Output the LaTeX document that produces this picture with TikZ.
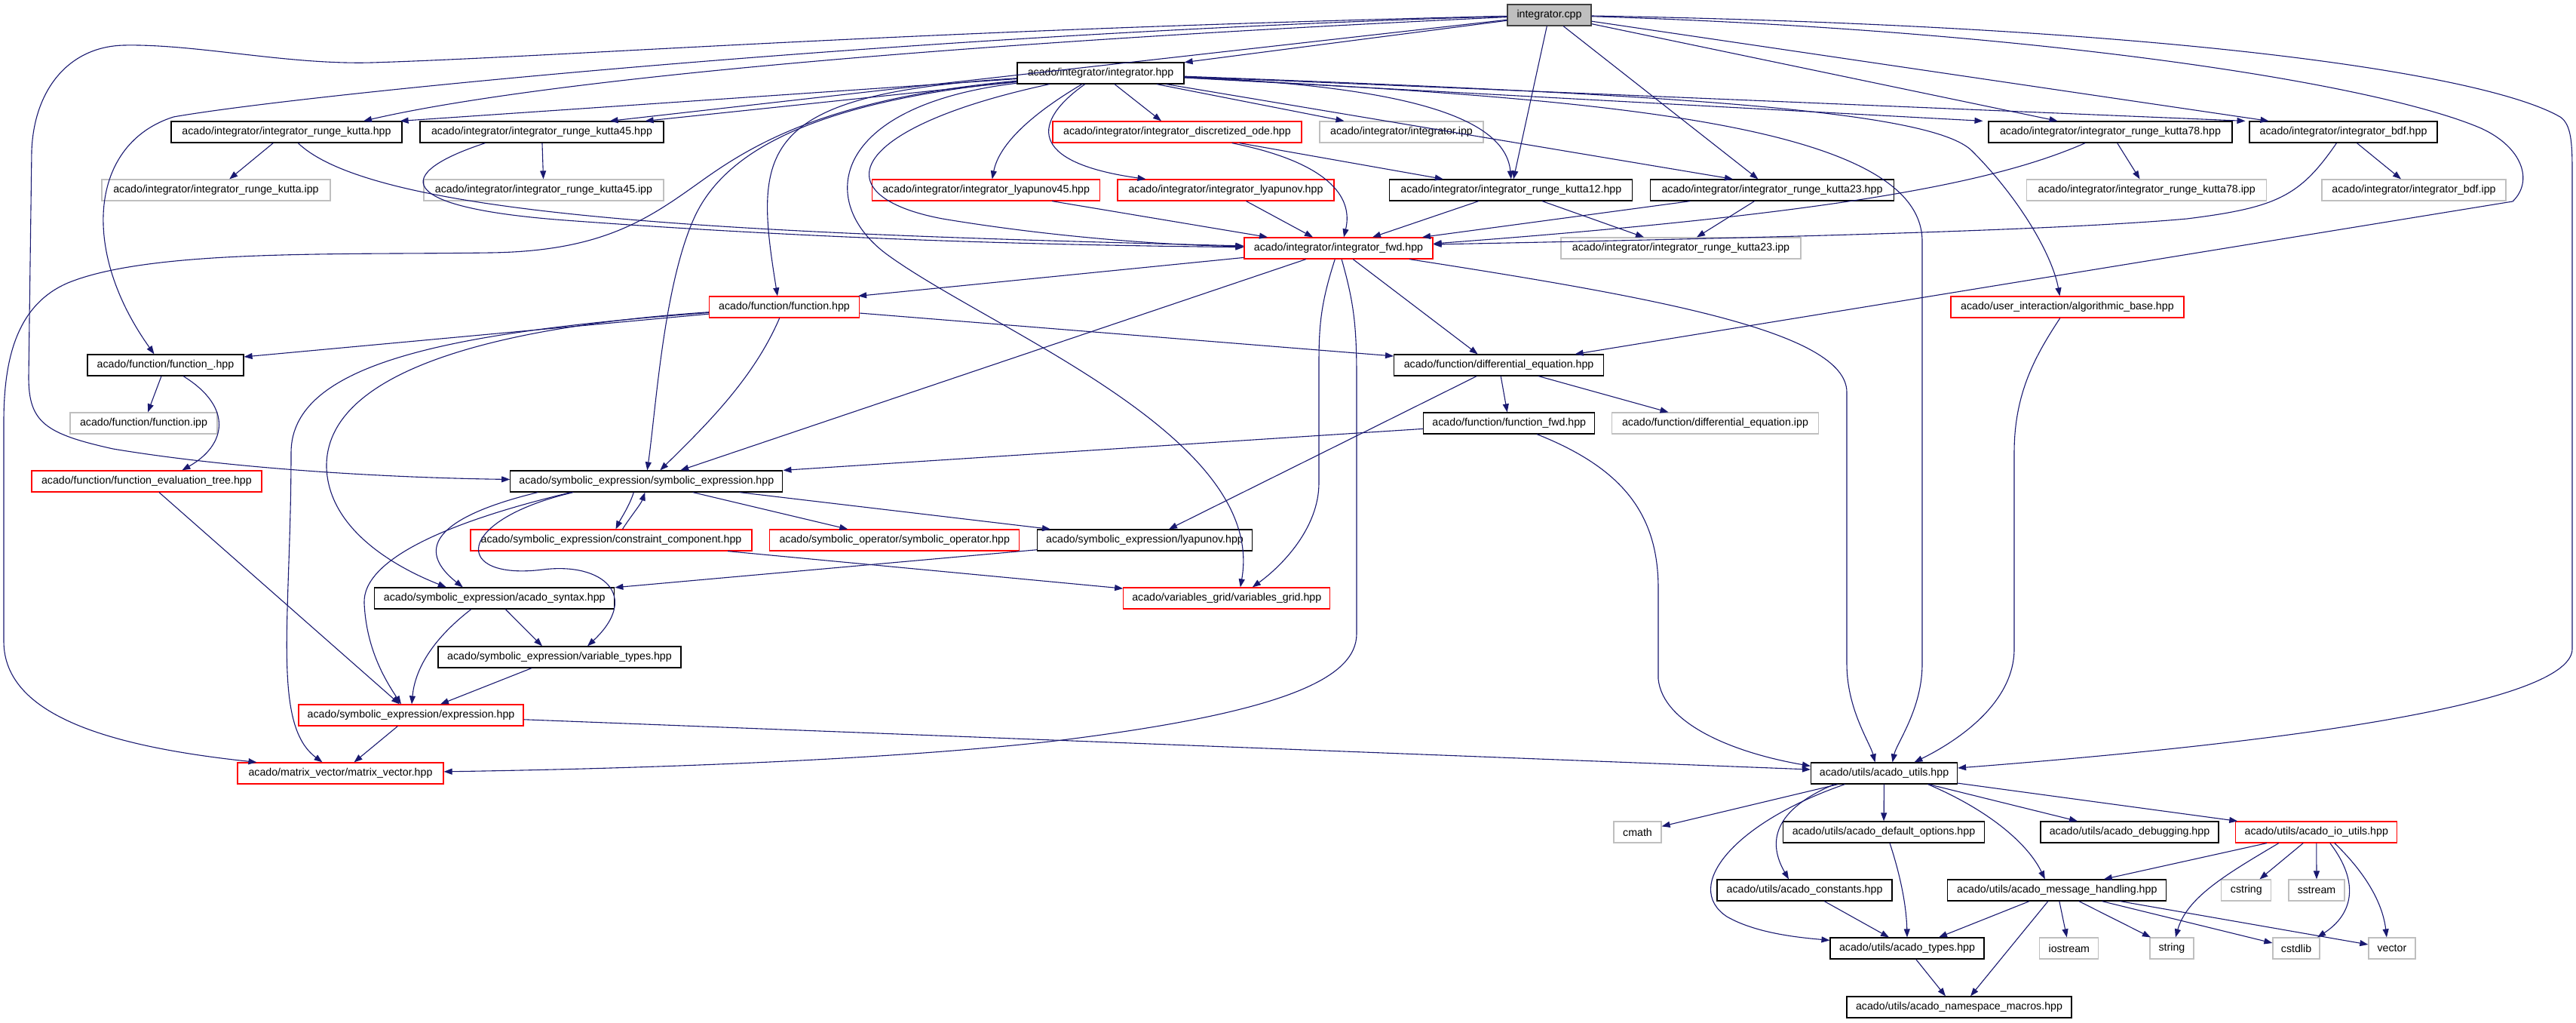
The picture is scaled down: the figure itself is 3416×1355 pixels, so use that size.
\documentclass[tikz,border=0pt]{standalone}
\usepackage{fontspec}
\setmainfont{Liberation Sans}
\usetikzlibrary{arrows.meta}
\definecolor{edgec}{HTML}{191970}
\definecolor{grayb}{HTML}{BFBFBF}
\definecolor{darkb}{HTML}{404040}
\newcommand\dxfont{\fontsize{14.2}{17}\selectfont}
\tikzset{
 nd/.style={draw=black, line width=1.2pt, fill=white, minimum height=28pt, inner sep=0pt, font=\dxfont},
 ndr/.style={nd, draw=red},
 ndg/.style={nd, draw=grayb},
 ed/.style={draw=edgec, line width=1.1pt, -{Triangle[length=11pt,width=8pt]}},
}
\begin{document}
\begin{tikzpicture}[x=1pt,y=-1pt]
\useasboundingbox (0,0) rectangle (3416,1355);
% nodes
\node[nd,fill=grayb,draw=darkb,minimum width=111pt] (cpp) at (2054.5,20) {integrator.cpp};
\node[nd,minimum width=221pt] (ihpp) at (1459.5,97) {acado/integrator/integrator.hpp};
\node[nd,minimum width=306pt] (rk) at (380,175) {acado/integrator/integrator\_runge\_kutta.hpp};
\node[nd,minimum width=323pt] (rk45) at (718.5,175) {acado/integrator/integrator\_runge\_kutta45.hpp};
\node[ndr,minimum width=330pt] (dode) at (1561,175) {acado/integrator/integrator\_discretized\_ode.hpp};
\node[ndg,minimum width=217pt] (iipp) at (1858.5,175) {acado/integrator/integrator.ipp};
\node[nd,minimum width=323pt] (rk78) at (2798.5,175) {acado/integrator/integrator\_runge\_kutta78.hpp};
\node[nd,minimum width=249pt] (bdf) at (3107.5,175) {acado/integrator/integrator\_bdf.hpp};
\node[ndg,minimum width=303pt] (rkipp) at (286.5,252) {acado/integrator/integrator\_runge\_kutta.ipp};
\node[ndg,minimum width=318pt] (rk45ipp) at (721,252) {acado/integrator/integrator\_runge\_kutta45.ipp};
\node[ndr,minimum width=302pt] (ly45) at (1307.7,252) {acado/integrator/integrator\_lyapunov45.hpp};
\node[ndr,minimum width=287pt] (ly) at (1625.5,252) {acado/integrator/integrator\_lyapunov.hpp};
\node[nd,minimum width=322pt] (rk12) at (2003.8,252) {acado/integrator/integrator\_runge\_kutta12.hpp};
\node[nd,minimum width=323pt] (rk23) at (2350,252) {acado/integrator/integrator\_runge\_kutta23.hpp};
\node[ndg,minimum width=318pt] (rk78ipp) at (2846.7,252) {acado/integrator/integrator\_runge\_kutta78.ipp};
\node[ndg,minimum width=244pt] (bdfipp) at (3201,252) {acado/integrator/integrator\_bdf.ipp};
\node[ndr,minimum width=250pt] (fwd) at (1775,329) {acado/integrator/integrator\_fwd.hpp};
\node[ndg,minimum width=318pt] (rk23ipp) at (2229,329) {acado/integrator/integrator\_runge\_kutta23.ipp};
\node[ndr,minimum width=199pt] (func) at (1040,407) {acado/function/function.hpp};
\node[ndr,minimum width=309pt] (algo) at (2741.4,407) {acado/user\_interaction/algorithmic\_base.hpp};
\node[nd,minimum width=207pt] (funcu) at (219.5,484) {acado/function/function\_.hpp};
\node[nd,minimum width=278pt] (diffeq) at (1987.6,484) {acado/function/differential\_equation.hpp};
\node[ndg,minimum width=195pt] (funcipp) at (190.5,561) {acado/function/function.ipp};
\node[nd,minimum width=227pt] (ffwd) at (2001.3,561) {acado/function/function\_fwd.hpp};
\node[ndg,minimum width=274pt] (diffipp) at (2274.5,561) {acado/function/differential\_equation.ipp};
\node[ndr,minimum width=305pt] (fet) at (194.4,638) {acado/function/function\_evaluation\_tree.hpp};
\node[nd,minimum width=361pt] (symexpr) at (857.3,638) {acado/symbolic\_expression/symbolic\_expression.hpp};
\node[ndr,minimum width=373pt] (cc) at (810.5,716) {acado/symbolic\_expression/constraint\_component.hpp};
\node[ndr,minimum width=331pt] (symop) at (1186.3,716) {acado/symbolic\_operator/symbolic\_operator.hpp};
\node[nd,minimum width=285pt] (lyap) at (1518,716) {acado/symbolic\_expression/lyapunov.hpp};
\node[nd,minimum width=318pt] (syntax) at (655.8,793) {acado/symbolic\_expression/acado\_syntax.hpp};
\node[ndr,minimum width=274pt] (vgrid) at (1626.8,793) {acado/variables\_grid/variables\_grid.hpp};
\node[nd,minimum width=322pt] (vtypes) at (742,871) {acado/symbolic\_expression/variable\_types.hpp};
\node[ndr,minimum width=298pt] (expr) at (545,948) {acado/symbolic\_expression/expression.hpp};
\node[ndr,minimum width=273pt] (mv) at (451.5,1025) {acado/matrix\_vector/matrix\_vector.hpp};
\node[nd,minimum width=194pt] (utils) at (2498.5,1025) {acado/utils/acado\_utils.hpp};
\node[ndg,minimum width=63pt] (cmath) at (2171.5,1103) {cmath};
\node[nd,minimum width=267pt] (defopt) at (2498,1103) {acado/utils/acado\_default\_options.hpp};
\node[nd,minimum width=236pt] (debug) at (2824,1103) {acado/utils/acado\_debugging.hpp};
\node[ndr,minimum width=214pt] (io) at (3071.8,1103) {acado/utils/acado\_io\_utils.hpp};
\node[nd,minimum width=232pt] (const) at (2393,1180) {acado/utils/acado\_constants.hpp};
\node[nd,minimum width=290pt] (msg) at (2727.8,1180) {acado/utils/acado\_message\_handling.hpp};
\node[ndg,minimum width=66pt] (cstring) at (2978.8,1180) {cstring};
\node[ndg,minimum width=74pt] (sstream) at (3072,1180) {sstream};
\node[nd,minimum width=204pt] (types) at (2529,1257) {acado/utils/acado\_types.hpp};
\node[ndg,minimum width=78pt] (iostream) at (2743.8,1257) {iostream};
\node[ndg,minimum width=58pt] (string) at (2879.9,1257) {string};
\node[ndg,minimum width=62pt] (cstdlib) at (3045,1257) {cstdlib};
\node[ndg,minimum width=62pt] (vector) at (3171.9,1257) {vector};
\node[nd,minimum width=298pt] (ns) at (2598,1335) {acado/utils/acado\_namespace\_macros.hpp};
% edges from integrator.cpp
\draw[ed] (cpp) -- (ihpp);
\draw[ed] (cpp) .. controls (1200,60) and (700,110) .. ([xshift=102pt]rk.north);
\draw[ed] (cpp) -- ([xshift=90pt]rk45.north);
\draw[ed] (cpp) .. controls (1200,45) and (400,125) .. (230,155) .. controls (120,190) and (105,330) .. ([xshift=-15pt]funcu.north);
\draw[ed] (cpp) .. controls (1200,40) and (750,75) .. (493,83) .. controls (380,86) and (260,58) .. (164,60) .. controls (90,62) and (45,120) .. (42,200) -- (38,500) .. controls (38,560) and (60,575) .. (150,595) .. controls (300,620) and (500,633) .. (symexpr);
\draw[ed] (cpp) -- (rk12);
\draw[ed] (cpp) -- (rk23);
\draw[ed] (cpp) -- (rk78);
\draw[ed] (cpp) -- (bdf);
\draw[ed] (cpp) .. controls (2700,40) and (3150,110) .. (3290,170) .. controls (3345,195) and (3360,240) .. (3332,267) -- ([xshift=101pt]diffeq.north);
\draw[ed] (cpp) .. controls (2900,35) and (3300,100) .. (3395,155) .. controls (3410,165) and (3411,190) .. (3411,230) -- (3411,860) .. controls (3411,920) and (3150,975) .. ([yshift=7pt]utils.east);
% edges from integrator.hpp
\draw[ed] (ihpp) -- ([xshift=-3pt]rk.north east);
\draw[ed] (ihpp) -- ([xshift=-25pt]rk45.north east);
\draw[ed] (ihpp) .. controls (1000,125) and (1000,200) .. ([xshift=-9pt]func.north);
\draw[ed] (ihpp) .. controls (1100,130) and (1000,190) .. (930,240) .. controls (860,290) and (800,333) .. (650,335) .. controls (450,338) and (200,330) .. (90,375) .. controls (20,405) and (5,480) .. (5,560) -- (5,850) .. controls (5,950) and (150,990) .. ([xshift=-111pt]mv.north);
\draw[ed] (ihpp) .. controls (1080,135) and (960,200) .. (920,290) .. controls (880,380) and (870,540) .. ([xshift=1pt]symexpr.north);
\draw[ed] (ihpp) .. controls (1100,140) and (1080,270) .. (1180,340) .. controls (1320,440) and (1680,580) .. ([xshift=18pt]vgrid.north);
\draw[ed] (ihpp) .. controls (1120,170) and (1090,260) .. (1250,290) .. controls (1400,315) and (1550,325) .. (fwd);
\draw[ed] (ihpp) .. controls (1370,150) and (1325,190) .. ([xshift=8pt]ly45.north);
\draw[ed] (ihpp) .. controls (1370,160) and (1360,215) .. ([xshift=-106pt]ly.north);
\draw[ed] (ihpp) -- ([xshift=-21pt]dode.north);
\draw[ed] (ihpp) -- ([xshift=-76pt]iipp.north);
\draw[ed] (ihpp) .. controls (1800,112) and (1995,140) .. (rk12.north);
\draw[ed] (ihpp) -- ([xshift=-52pt]rk23.north);
\draw[ed] (ihpp) -- ([xshift=-169pt]rk78.north);
\draw[ed] (ihpp) -- ([xshift=-130pt]bdf.north);
\draw[ed] (ihpp) .. controls (2200,125) and (2560,145) .. (2615,200) .. controls (2680,265) and (2722,340) .. ([xshift=-10pt]algo.north);
\draw[ed] (ihpp) .. controls (2100,130) and (2549,160) .. (2549,320) -- (2549,880) .. controls (2549,940) and (2515,985) .. ([xshift=11pt]utils.north);
% edges from integrator_fwd.hpp
\draw[ed] (fwd) -- ([xshift=-2pt]func.north east);
\draw[ed] (fwd) -- ([xshift=45pt]symexpr.north);
\draw[ed] (fwd) -- ([xshift=-28pt]diffeq.north);
\draw[ed] (fwd) .. controls (1752,400) and (1749,430) .. (1749,480) -- (1749,640) .. controls (1749,700) and (1700,750) .. ([xshift=34pt]vgrid.north);
\draw[ed] (fwd) .. controls (1795,400) and (1799,430) .. (1799,500) -- (1799,840) .. controls (1799,900) and (1700,945) .. (1400,982) .. controls (1200,1005) and (900,1018) .. (mv);
\draw[ed] (fwd) .. controls (2200,395) and (2449,440) .. (2449,520) -- (2449,880) .. controls (2449,940) and (2480,985) .. ([xshift=-12pt]utils.north);
% edges from function.hpp
\draw[ed] (func) -- ([yshift=11pt]funcu.east);
\draw[ed] (func) .. controls (700,430) and (430,480) .. (433,620) .. controls (436,700) and (520,750) .. ([xshift=-64pt]syntax.north);
\draw[ed] (func) .. controls (600,440) and (386,480) .. (386,600) .. controls (386,820) and (360,960) .. ([xshift=-24pt]mv.north);
\draw[ed] (func) .. controls (1000,500) and (940,560) .. ([xshift=18pt]symexpr.north);
\draw[ed] (func) -- ([yshift=12pt]diffeq.west);
% symbolic expression area
\draw[ed] ([xshift=-17pt]symexpr.south) .. controls (835,670) and (823,688) .. ([xshift=6pt]cc.north);
\draw[ed] ([xshift=15pt]cc.north) .. controls (836,685) and (850,668) .. ([xshift=-2pt]symexpr.south);
\draw[ed] (symexpr) -- ([xshift=-62pt]symop.north);
\draw[ed] (symexpr) -- ([xshift=-125pt]lyap.north);
\draw[ed] ([xshift=-144pt]symexpr.south) .. controls (600,680) and (540,720) .. ([xshift=-42pt]syntax.north);
\draw[ed] ([xshift=-100pt]symexpr.south) .. controls (600,690) and (480,740) .. (483,800) .. controls (486,860) and (510,900) .. ([xshift=-13pt]expr.north);
\draw[ed] ([xshift=-97pt]symexpr.south) .. controls (600,690) and (600,770) .. (720,755) .. controls (800,745) and (850,790) .. ([xshift=37pt]vtypes.north);
\draw[ed] (lyap) -- (syntax);
\draw[ed] (cc) -- (vgrid);
\draw[ed] (diffeq) -- ([xshift=32pt]lyap.north);
\draw[ed] (diffeq) -- (ffwd);
\draw[ed] (diffeq) -- ([xshift=-62pt]diffipp.north);
\draw[ed] (ffwd) -- (symexpr.north east);
\draw[ed] (ffwd) .. controls (2150,620) and (2199,680) .. (2199,780) -- (2199,900) .. controls (2205,960) and (2300,998) .. ([yshift=-5pt]utils.north west);
\draw[ed] (algo) .. controls (2700,470) and (2671,520) .. (2671,600) -- (2671,860) .. controls (2671,930) and (2600,980) .. ([xshift=40pt]utils.north);
\draw[ed] (fet) -- ([xshift=-15pt]expr.north);
\draw[ed] (funcu) -- (funcipp);
\draw[ed] (funcu) .. controls (310,540) and (300,590) .. ([xshift=47pt]fet.north);
% integrator family
\draw[ed] (rk) -- (rkipp);
\draw[ed] (rk) .. controls (500,290) and (1000,310) .. (fwd);
\draw[ed] (rk45) -- (rk45ipp);
\draw[ed] ([xshift=-75pt]rk45.south) .. controls (520,230) and (520,275) .. (750,292) .. controls (1100,318) and (1400,325) .. (fwd);
\draw[ed] (ly45) -- ([xshift=-94pt]fwd.north);
\draw[ed] (ly) -- ([xshift=-34pt]fwd.north);
\draw[ed] (dode) .. controls (1760,215) and (1795,260) .. ([xshift=7pt]fwd.north);
\draw[ed] (dode) -- ([xshift=-90pt]rk12.north);
\draw[ed] (rk12) -- ([xshift=45pt]fwd.north);
\draw[ed] (rk12) -- ([xshift=-49pt]rk23ipp.north);
\draw[ed] (rk23) -- ([xshift=111pt]fwd.north);
\draw[ed] (rk23) -- ([xshift=21pt]rk23ipp.north);
\draw[ed] (rk78) .. controls (2650,240) and (2450,282) .. ([yshift=6pt]fwd.east);
\draw[ed] (rk78) -- (rk78ipp);
\draw[ed] ([xshift=-9pt]bdf.south) .. controls (3050,260) and (3020,275) .. (2900,290) .. controls (2700,308) and (2200,318) .. ([yshift=5pt]fwd.east);
\draw[ed] (bdf) -- ([xshift=-17pt]bdfipp.north);
% lower left
\draw[ed] (syntax) -- ([xshift=-23pt]vtypes.north);
\draw[ed] ([xshift=-31pt]syntax.south) .. controls (570,850) and (550,890) .. ([xshift=1pt]expr.north);
\draw[ed] (vtypes) -- ([xshift=39pt]expr.north);
\draw[ed] (expr) -- ([xshift=18pt]mv.north);
\draw[ed] (expr) -- ([yshift=5pt]utils.west);
% utils
\draw[ed] (utils) -- (cmath);
\draw[ed] (utils) -- (defopt);
\draw[ed] ([xshift=-66pt]utils.south) .. controls (2360,1070) and (2340,1110) .. ([xshift=-21pt]const.north);
\draw[ed] ([xshift=-52pt]utils.south) .. controls (2300,1090) and (2230,1175) .. (2290,1215) .. controls (2330,1238) and (2390,1243) .. ([yshift=-4pt]types.north west);
\draw[ed] (utils) -- ([xshift=-69pt]debug.north);
\draw[ed] (utils) -- ([xshift=3pt]io.north west);
\draw[ed] ([xshift=58pt]utils.south) .. controls (2640,1075) and (2690,1120) .. ([xshift=-16pt]msg.north);
\draw[ed] ([xshift=8pt]defopt.south) .. controls (2520,1160) and (2528,1200) .. (types.north);
\draw[ed] (const) -- ([xshift=-24pt]types.north);
\draw[ed] (types) -- ([xshift=-18pt]ns.north);
\draw[ed] (msg) -- ([xshift=42pt]types.north);
\draw[ed] (msg) -- ([xshift=15pt]ns.north);
\draw[ed] (msg) -- (iostream);
\draw[ed] (msg) -- ([xshift=-28pt]string.north);
\draw[ed] (msg) -- ([yshift=7pt]cstdlib.west);
\draw[ed] (msg) -- ([yshift=5pt]vector.west);
\draw[ed] (io) -- ([xshift=62pt]msg.north);
\draw[ed] ([xshift=-50pt]io.south) .. controls (2950,1160) and (2900,1190) .. ([xshift=5pt]string.north);
\draw[ed] (io) -- (cstring);
\draw[ed] (io) -- (sstream);
\draw[ed] ([xshift=18pt]io.south) .. controls (3130,1170) and (3120,1212) .. ([xshift=28pt]cstdlib.north);
\draw[ed] ([xshift=24pt]io.south) .. controls (3140,1160) and (3160,1200) .. ([xshift=-7pt]vector.north);
\end{tikzpicture}
\end{document}
